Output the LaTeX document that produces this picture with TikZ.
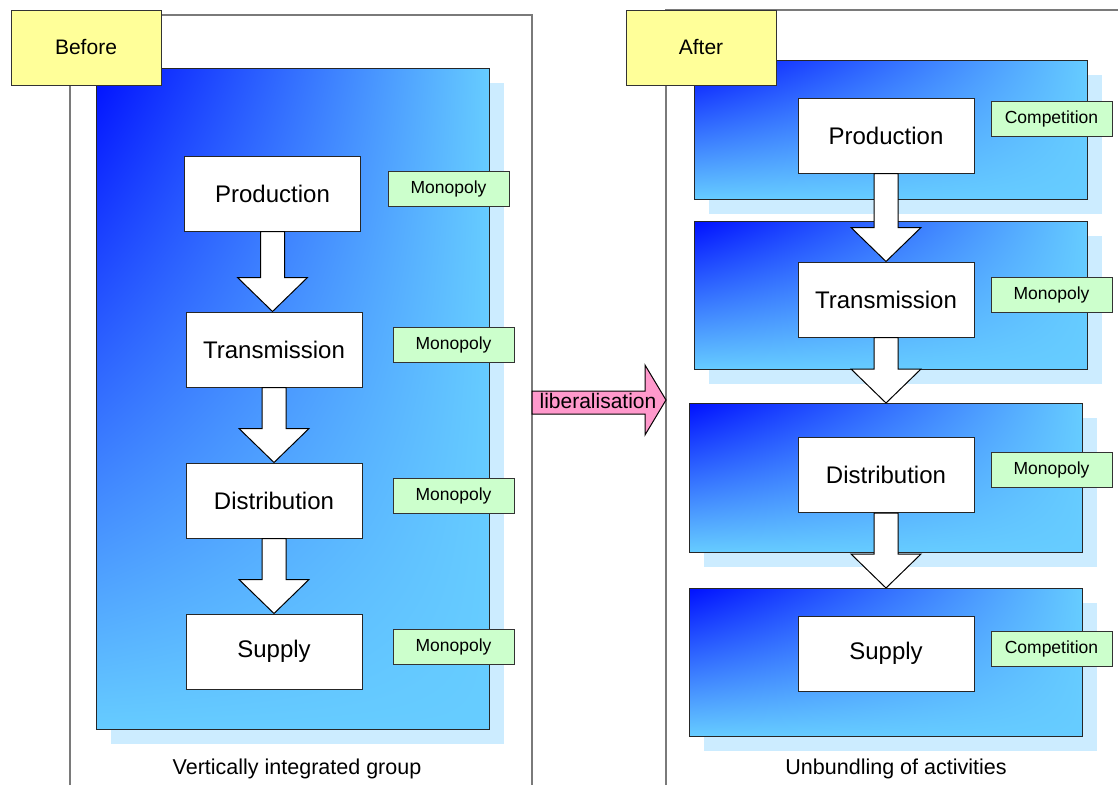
\documentclass[tikz,border=0pt]{standalone}
\usepackage{fontspec}
\setmainfont{Liberation Sans}
\usetikzlibrary{calc,fit,shadings}
\definecolor{tagyellow}{HTML}{FFFF99}
\definecolor{taggreen}{HTML}{CCFFCC}
\definecolor{shadowblue}{HTML}{CCECFF}
\definecolor{deepblue}{HTML}{0010FF}
\definecolor{lightblue}{HTML}{66CCFF}
\definecolor{libpink}{HTML}{FF99CC}
\definecolor{framegray}{HTML}{7A7A7A}
\tikzset{
  frame/.style={draw=framegray, line width=1.5pt},
  headbox/.style={draw=black!80, fill=tagyellow, line width=1pt, minimum width=150pt, minimum height=75pt, inner sep=0pt, font=\fontsize{21}{25}\selectfont},
  blk/.style={draw=black!85, line width=1pt, upper left=deepblue, upper right=lightblue, lower left=lightblue, lower right=lightblue, inner sep=0pt, outer sep=0pt},
  shadowbox/.style={fill=shadowblue, draw=none},
  stagebox/.style={draw=black!85, fill=white, line width=1pt, minimum width=176pt, minimum height=75pt, inner sep=0pt, font=\fontsize{24}{28}\selectfont},
  tagbox/.style={draw=black!80, fill=taggreen, line width=1pt, minimum width=121pt, minimum height=35pt, inner sep=0pt, font=\fontsize{17.5}{20}\selectfont},
  barrow/.style={draw=black, fill=white, line width=1pt, line join=miter},
  libarrow/.style={draw=black, fill=libpink, line width=1pt, line join=miter},
  captiontext/.style={font=\fontsize{21.5}{25}\selectfont, inner sep=0pt},
  libtext/.style={font=\fontsize{21}{25}\selectfont, inner sep=0pt}
}
\newcommand\gblock[5]{%
  \fill[shadowbox] ({#2+15},{#3+15}) rectangle ({#4+15},{#5+15});
  \node[blk, fit={(#2,#3) (#4,#5)}] (#1) {};
}
\newcommand\downblk[2]{%
  \draw[barrow] ($(#1)+(-12,0)$) -- ($(#2)+(-12,-34)$) -- ($(#2)+(-35,-34)$) -- (#2)
    -- ($(#2)+(35,-34)$) -- ($(#2)+(12,-34)$) -- ($(#1)+(12,0)$) -- cycle;
}
\begin{document}
\begin{tikzpicture}[x=1pt,y=-1pt]
\useasboundingbox (0,0) rectangle (1118,785);
\fill[white] (0,0) rectangle (1118,785);

% frames
\draw[frame] (70,785) -- (70,15) -- (532,15) -- (532,785);
\draw[frame] (666,785) -- (666,10) -- (1125,10);

% left panel
\gblock{lblk}{96}{68}{489}{729}
\node[stagebox] (lprod) at (272.5,193.5) {Production};
\node[stagebox] (ltrans) at (274,349.5) {Transmission};
\node[stagebox] (ldist) at (274,500.5) {Distribution};
\node[stagebox] (lsup) at (274,651.5) {Supply};
\downblk{lprod.south}{lprod.south |- ltrans.north}
\downblk{ltrans.south}{ltrans.south |- ldist.north}
\downblk{ldist.south}{ldist.south |- lsup.north}
\node[tagbox] (lm1) at (448.5,188.5) {Monopoly};
\node[tagbox] (lm2) at (453.5,344.5) {Monopoly};
\node[tagbox] (lm3) at (453.5,495.5) {Monopoly};
\node[tagbox] (lm4) at (453.5,646.5) {Monopoly};
\node[headbox] (before) at (86,47.5) {Before};
\node[captiontext] (lcap) at (297,769) {Vertically integrated group};

% right panel
\gblock{rblk1}{694}{60}{1087}{199}
\gblock{rblk2}{694}{221}{1087}{369}
\gblock{rblk3}{689}{403}{1082}{552}
\gblock{rblk4}{689}{588}{1082}{736}
\node[stagebox] (rprod) at (886,135.5) {Production};
\node[stagebox] (rtrans) at (886,299.5) {Transmission};
\node[stagebox] (rdist) at (886,475) {Distribution};
\node[stagebox] (rsup) at (886,653.5) {Supply};
\downblk{rprod.south}{rprod.south |- rtrans.north}
\downblk{rtrans.south}{rtrans.south |- rblk3.north}
\downblk{rdist.south}{rdist.south |- rblk4.north}
\node[tagbox] (rm1) at (1051.5,118.5) {Competition};
\node[tagbox] (rm2) at (1051.5,294.5) {Monopoly};
\node[tagbox] (rm3) at (1051.5,470) {Monopoly};
\node[tagbox] (rm4) at (1051.5,649) {Competition};
\node[headbox] (after) at (701,47.5) {After};
\node[captiontext] (rcap) at (896,769) {Unbundling of activities};

% liberalisation arrow
\coordinate (libtail) at (532,402.5);
\coordinate (libtip) at (666,400);
\draw[libarrow] ($(libtail)+(0,-11.5)$) -- ($(libtip)+(-21,-9)$) -- ($(libtip)+(-21,-35)$) -- (libtip)
  -- ($(libtip)+(-21,35)$) -- ($(libtip)+(-21,14)$) -- ($(libtail)+(0,11.5)$) -- cycle;
\node[libtext] (lib) at (598,401) {liberalisation};
\end{tikzpicture}
\end{document}
